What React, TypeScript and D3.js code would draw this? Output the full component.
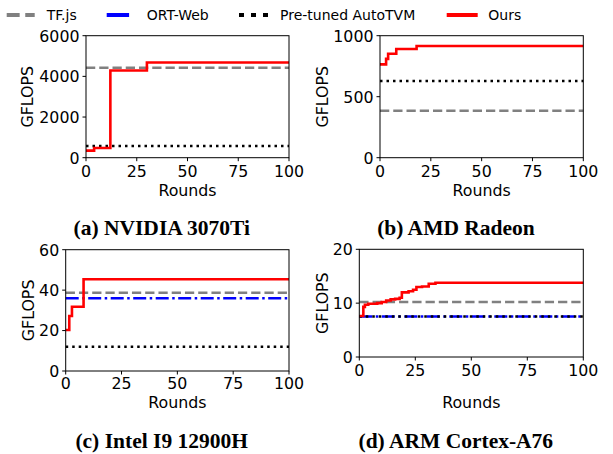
import React from "react";
import * as d3 from "d3";

// ---------- data ----------
const xTicks = [0, 25, 50, 75, 100];
const legendLabels = ["TF.js", "ORT-Web", "Pre-tuned AutoTVM", "Ours"];

const nvidiaOurs: [number, number][] = [[0, 350], [4, 480], [12, 4290], [30, 4680], [100, 4680]];
const nvidiaTF = 4420;
const nvidiaAutoTVM = 580;
const nvidiaYTicks = [0, 2000, 4000, 6000];

const amdOurs: [number, number][] = [[0, 765], [3, 810], [4, 852], [8, 891], [18, 916], [100, 916]];
const amdTF = 385;
const amdAutoTVM = 629;
const amdYTicks = [0, 500, 1000];

const intelOurs: [number, number][] = [[0, 20.3], [1.6, 27.2], [2.8, 31.8], [8, 45.4], [100, 45.4]];
const intelTF = 38.7;
const intelORT = 36.0;
const intelAutoTVM = 12;
const intelYTicks = [0, 20, 40, 60];

const armOurs: [number, number][] = [
  [0, 7.6], [1.8, 9.3], [2.5, 9.7], [4, 9.9], [8, 10.0], [10, 10.2], [12, 10.5], [14, 10.7],
  [16, 10.8], [18, 11.0], [19, 12.0], [22, 12.2], [24, 12.5], [25.5, 13.0], [28, 13.1],
  [31, 13.6], [34, 13.8], [100, 13.8],
];
const armTF = 10.2;
const armORT = 7.5;
const armAutoTVM = 7.5;
const armYTicks = [0, 10, 20];

// ---------- styles ----------
const SANS = "DejaVu Sans";
const SERIF = "Liberation Serif";
const C_TF = "#808080";
const C_ORT = "#0000ff";
const C_TVM = "#000000";
const C_OURS = "#ff0000";

type PanelCfg = {
  key: string;
  x0: number; x1: number; y0: number; y1: number;
  yTicks: number[];
  ours: [number, number][];
  tf?: number; ort?: number; tvm?: number;
  caption: string; capX: number; capY: number;
  ylabX: number; roundsY: number; tickLabOff: number;
};

const panels: PanelCfg[] = [
  { key: "a", x0: 86, x1: 289, y0: 35.7, y1: 157.7, yTicks: nvidiaYTicks, ours: nvidiaOurs,
    tf: nvidiaTF, tvm: nvidiaAutoTVM, caption: "(a) NVIDIA 3070Ti", capX: 161.7, capY: 234.5,
    ylabX: 27.3, roundsY: 196, tickLabOff: 19.5 },
  { key: "b", x0: 380, x1: 583.3, y0: 35.7, y1: 157.7, yTicks: amdYTicks, ours: amdOurs,
    tf: amdTF, tvm: amdAutoTVM, caption: "(b) AMD Radeon", capX: 456, capY: 234.5,
    ylabX: 321.7, roundsY: 196, tickLabOff: 19.5 },
  { key: "c", x0: 65.7, x1: 289, y0: 249.7, y1: 371, yTicks: intelYTicks, ours: intelOurs,
    tf: intelTF, ort: intelORT, tvm: intelAutoTVM, caption: "(c) Intel I9 12900H", capX: 161.7, capY: 448,
    ylabX: 28.3, roundsY: 407.5, tickLabOff: 18.3 },
  { key: "d", x0: 359.3, x1: 583.3, y0: 249.3, y1: 357, yTicks: armYTicks, ours: armOurs,
    tf: armTF, ort: armORT, tvm: armAutoTVM, caption: "(d) ARM Cortex-A76", capX: 455.8, capY: 448,
    ylabX: 321.7, roundsY: 407.5, tickLabOff: 18.8 },
];

function Panel({ p }: { p: PanelCfg }) {
  const x = d3.scaleLinear().domain([0, 100]).range([p.x0, p.x1]);
  const yMax = p.yTicks[p.yTicks.length - 1];
  const y = d3.scaleLinear().domain([0, yMax]).range([p.y1, p.y0]);
  const step = d3.line<[number, number]>().x((d) => x(d[0])).y((d) => y(d[1])).curve(d3.curveStepAfter);
  const hline = (v: number) => step([[0, v], [100, v]]) || "";
  const fs = 15.8;
  return (
    <g>
      {p.tf !== undefined && (
        <path d={hline(p.tf)} fill="none" stroke={C_TF} strokeWidth={2.5} strokeDasharray="9.25 4" />
      )}
      {p.ort !== undefined && (
        <path d={hline(p.ort)} fill="none" stroke={C_ORT} strokeWidth={2.5} strokeDasharray="13 3.5 2.5 3.5" />
      )}
      {p.tvm !== undefined && (
        <path d={hline(p.tvm)} fill="none" stroke={C_TVM} strokeWidth={2.5} strokeDasharray="2.5 4" />
      )}
      <path d={step(p.ours) || ""} fill="none" stroke={C_OURS} strokeWidth={2.6} />
      <rect x={p.x0} y={p.y0} width={p.x1 - p.x0} height={p.y1 - p.y0} fill="none" stroke="#000" strokeWidth={1} />
      {xTicks.map((t) => (
        <g key={"x" + t}>
          <line x1={x(t)} x2={x(t)} y1={p.y1} y2={p.y1 + 3.5} stroke="#000" strokeWidth={1} />
          <text x={x(t)} y={p.y1 + p.tickLabOff} textAnchor="middle" fontFamily={SANS} fontSize={fs} fill="#000">
            {t}
          </text>
        </g>
      ))}
      {p.yTicks.map((t) => (
        <g key={"y" + t}>
          <line x1={p.x0 - 3.5} x2={p.x0} y1={y(t)} y2={y(t)} stroke="#000" strokeWidth={1} />
          <text x={p.x0 - 6.5} y={y(t) + 5.8} textAnchor="end" fontFamily={SANS} fontSize={fs} fill="#000">
            {t}
          </text>
        </g>
      ))}
      <text x={(p.x0 + p.x1) / 2} y={p.roundsY} textAnchor="middle" fontFamily={SANS} fontSize={fs} fill="#000">
        Rounds
      </text>
      <text
        transform={`translate(${p.ylabX + 5.8},${(p.y0 + p.y1) / 2}) rotate(-90)`}
        textAnchor="middle" fontFamily={SANS} fontSize={fs} fill="#000"
      >
        GFLOPS
      </text>
      <text x={p.capX} y={p.capY} textAnchor="middle" fontFamily={SERIF} fontWeight="bold" fontSize={21.5} fill="#000">
        {p.caption}
      </text>
    </g>
  );
}

function Legend() {
  const ly = 15;
  const items = [
    { label: legendLabels[0], color: C_TF, x: 6.7, len: 28, dash: "12.95 5.6", tx: 46.7 },
    { label: legendLabels[1], color: C_ORT, x: 106.7, len: 28, dash: "22.4 5.6 3.5 5.6", tx: 146.7 },
    { label: legendLabels[2], color: C_TVM, x: 239, len: 29, dash: "5 7", tx: 280 },
    { label: legendLabels[3], color: C_OURS, x: 446.7, len: 31, dash: undefined, tx: 488.3 },
  ];
  return (
    <g>
      {items.map((it) => (
        <g key={it.label}>
          <line x1={it.x} x2={it.x + it.len} y1={ly} y2={ly} stroke={it.color} strokeWidth={4}
            strokeDasharray={it.dash} />
          <text x={it.tx} y={ly + 5} fontFamily={SANS} fontSize={14} fill="#000">{it.label}</text>
        </g>
      ))}
    </g>
  );
}

export default function App() {
  return (
    <svg width={613} height={454} style={{ position: "absolute", left: 0, top: 0, background: "#fff" }}>
      <rect x={0} y={0} width={613} height={454} fill="#fff" />
      <Legend />
      {panels.map((p) => (
        <Panel key={p.key} p={p} />
      ))}
    </svg>
  );
}
